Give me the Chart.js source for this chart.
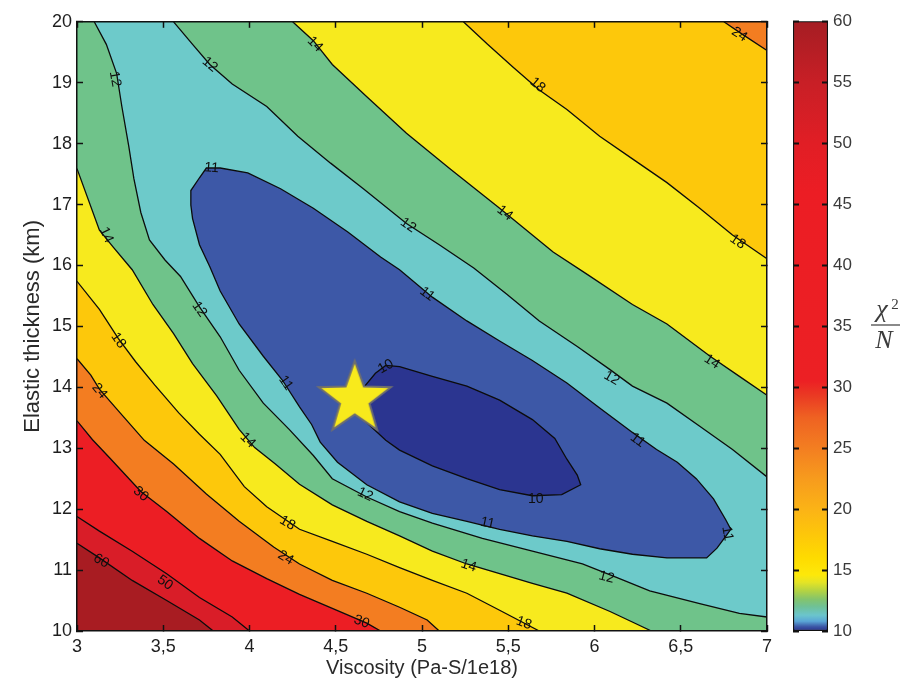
<!DOCTYPE html>
<html>
<head>
<meta charset="utf-8">
<script src="https://cdn.jsdelivr.net/npm/chart.js@4.4.1/dist/chart.umd.min.js"></script>
<style>
  body { margin: 0; background: #fff; }
  #wrap { position: relative; width: 915px; height: 680px; }
  #contourCanvas { position: absolute; left: 0; top: 0; }
  #barCanvas { position: absolute; left: 785px; top: 0; }
</style>
</head>
<body>
<div id="wrap">
  <canvas id="contourCanvas" width="785" height="680"></canvas>
  <canvas id="barCanvas" width="130" height="680"></canvas>
</div>
<script>
const FONT = "'Liberation Sans', Arial, Helvetica, sans-serif";

// contour lines of chi2/N, [viscosity, elastic thickness]
const c10 = [[4.61,13.66],[4.66,13.99],[4.73,14.23],[4.79,14.36],[4.87,14.34],[5.06,14.18],[5.26,14.02],[5.45,13.79],[5.64,13.47],[5.77,13.16],[5.84,12.82],[5.90,12.56],[5.92,12.40],[5.81,12.24],[5.64,12.22],[5.45,12.32],[5.26,12.50],[5.06,12.71],[4.87,12.97],[4.79,13.13],[4.71,13.34],[4.65,13.50]];
const c11 = [[3.66,16.99],[3.66,17.23],[3.71,17.44],[3.75,17.60],[3.83,17.60],[3.99,17.52],[4.18,17.26],[4.37,16.94],[4.57,16.55],[4.76,16.14],[4.87,15.93],[5.06,15.48],[5.26,15.09],[5.45,14.76],[5.64,14.44],[5.84,14.07],[6.03,13.66],[6.22,13.26],[6.36,12.98],[6.48,12.77],[6.59,12.50],[6.69,12.17],[6.76,11.83],[6.79,11.67],[6.77,11.59],[6.71,11.36],[6.65,11.20],[6.42,11.20],[6.22,11.26],[6.03,11.35],[5.84,11.47],[5.64,11.56],[5.45,11.67],[5.26,11.80],[5.06,11.93],[4.87,12.12],[4.68,12.40],[4.51,12.77],[4.41,13.10],[4.36,13.39],[4.29,13.68],[4.19,14.12],[4.08,14.51],[3.94,15.04],[3.83,15.58],[3.77,15.98],[3.71,16.34],[3.67,16.77]];
const c12a = [[3.10,20],[3.17,19.63],[3.23,19.15],[3.26,18.61],[3.30,17.96],[3.33,17.42],[3.37,16.87],[3.42,16.42],[3.51,16.09],[3.60,15.82],[3.71,15.32],[3.83,14.83],[3.94,14.28],[4.08,13.74],[4.23,13.31],[4.37,12.88],[4.48,12.50],[4.68,12.20],[4.87,11.96],[5.06,11.77],[5.35,11.52],[5.64,11.31],[5.93,11.10],[6.12,10.89],[6.32,10.66],[6.61,10.45],[6.84,10.29],[7.0,10.23]];
const c12b = [[3.56,20],[3.67,19.63],[3.77,19.30],[3.90,18.98],[4.10,18.61],[4.28,18.12],[4.47,17.68],[4.66,17.26],[4.91,16.69],[5.10,16.34],[5.30,15.96],[5.49,15.53],[5.68,15.09],[5.90,14.67],[6.09,14.29],[6.22,14.02],[6.42,13.74],[6.61,13.36],[6.80,12.98],[7.0,12.53]];
const c14u = [[4.25,20],[4.37,19.69],[4.48,19.30],[4.68,18.77],[4.91,18.17],[5.16,17.59],[5.45,16.94],[5.76,16.22],[5.96,15.85],[6.22,15.36],[6.42,15.04],[6.67,14.51],[6.84,14.18],[7.0,13.87]];
const c18u = [[5.24,20],[5.38,19.63],[5.53,19.25],[5.68,18.88],[5.84,18.56],[6.03,18.12],[6.22,17.75],[6.42,17.36],[6.61,16.94],[6.80,16.50],[7.0,16.11]];
const c24u = [[6.75,20],[6.86,19.79],[7.0,19.53]];
const c14l = [[3.0,17.59],[3.13,16.58],[3.21,16.30],[3.32,15.93],[3.44,15.36],[3.56,14.88],[3.67,14.39],[3.81,13.86],[3.94,13.31],[4.03,13.01],[4.15,12.74],[4.29,12.41],[4.48,12.07],[4.68,11.80],[4.87,11.56],[5.06,11.31],[5.26,11.10],[5.45,10.94],[5.64,10.78],[5.84,10.62],[6.09,10.32],[6.21,10.16],[6.33,10.0]];
const c18l = [[3.0,15.74],[3.13,15.28],[3.24,14.80],[3.34,14.42],[3.45,14.04],[3.59,13.58],[3.71,13.23],[3.83,12.90],[3.97,12.37],[4.10,12.04],[4.29,11.67],[4.48,11.47],[4.68,11.26],[4.87,11.04],[5.06,10.83],[5.26,10.62],[5.45,10.34],[5.68,10.0]];
const c24l = [[3.0,14.47],[3.08,14.20],[3.13,13.97],[3.25,13.58],[3.39,13.13],[3.56,12.74],[3.75,12.25],[3.94,11.80],[4.14,11.38],[4.29,11.10],[4.48,10.83],[4.68,10.62],[4.87,10.39],[5.03,10.18],[5.10,10.0]];
const c30 = [[3.0,13.45],[3.09,13.14],[3.19,12.84],[3.37,12.29],[3.52,11.96],[3.71,11.52],[3.90,11.15],[4.10,10.86],[4.29,10.60],[4.48,10.37],[4.68,10.13],[4.76,10.0]];
const c50 = [[3.0,11.88],[3.13,11.64],[3.32,11.31],[3.52,10.94],[3.71,10.55],[3.90,10.23],[4.0,10.0]];
const c60 = [[3.0,11.44],[3.13,11.20],[3.32,10.83],[3.52,10.50],[3.71,10.18],[3.79,10.0]];

// inline contour labels
const labelText  = ['24','18','18','14','14','14','12','12','12','12','11','11','11','11','10','10','11','12','12','12','11','14','14','14','18','24','30','18','24','50','60','30','18'];
const labelX     = [6.84,5.67,6.83,4.38,5.48,6.68,3.77,4.92,6.10,3.22,3.78,5.03,6.25,6.77,4.79,5.66,5.38,4.67,6.07,3.71,4.21,3.99,5.27,3.17,3.24,3.13,3.37,4.22,4.21,3.51,3.14,4.65,5.59];
const labelY     = [19.79,18.96,16.39,19.63,16.86,14.42,19.30,16.66,14.15,19.06,17.60,15.53,13.13,11.60,14.34,12.17,11.77,12.24,10.88,15.28,14.07,13.13,11.07,16.50,14.77,13.94,12.25,11.77,11.20,10.79,11.15,10.15,10.13];
const labelAngle = [33,40,35,45,38,33,40,35,30,80,5,38,37,80,-30,0,12,25,15,55,55,45,18,65,55,50,40,30,30,35,30,20,20];

// best fit
const starX = [4.61];
const starY = [13.81];

// colour scale
const cbValues = [10, 10.35, 10.8, 11.3, 12.0, 12.6, 13.3, 14.0, 14.6, 16, 18, 20, 22.5, 25, 27.5, 29.3, 30.5, 46, 50, 55, 60];
const cbColors = ['#29308a','#3b55a5','#5aa6d6','#6bc5cc','#6fc196','#84c46c','#b4d342','#e5e425','#fde80a','#fedb00','#fdc60a','#fbb316','#f79b1d','#f37e21','#ef6222','#ea3a23','#ec2024','#ec1d24','#e11e25','#c81f26','#a51d23'];

const COL = {
  navy: '#2b3590', blue: '#3d58a7', cyan: '#6dcaca', green: '#6fc38a',
  yellow: '#f7ea1e', gold: '#fdc80b', orange: '#f37d21', red: '#ec1e24',
  red2: '#d91d28', darkRed: '#a81c22'
};

const toPts = arr => arr.map(p => ({x: p[0], y: p[1]}));
const rightmost = arr => arr.reduce((a, b) => (b[0] > a[0] ? b : a));

// filled bands, painted bottom to top
const frame = [[3,20],[3,10],[7,10],[7,20]];
const layers = [
  [frame, COL.green],
  [c14u.concat([[7,20]]), COL.yellow],
  [c18u.concat([[7,20]]), COL.gold],
  [c24u.concat([[7,20]]), COL.orange],
  [[[3,10]].concat(c14l), COL.yellow],
  [[[3,10]].concat(c18l), COL.gold],
  [[[3,10]].concat(c24l), COL.orange],
  [[[3,10]].concat(c30), COL.red],
  [[[3,10]].concat(c50), COL.red2],
  [[[3,10]].concat(c60), COL.darkRed],
  [c12a.concat(c12b.slice().reverse(), [[7,20]]), COL.cyan],
  [c11.concat([c11[0], rightmost(c11)]), COL.blue],
  [c10.concat([c10[0], rightmost(c10)]), COL.navy]
];

const datasets = layers.map((l, i) => ({
  data: toPts(l[0]),
  showLine: true,
  fill: 'shape',
  backgroundColor: l[1],
  borderWidth: 0,
  pointRadius: 0,
  order: 100 - i
}));

[c10.concat([c10[0]]), c11.concat([c11[0]]), c12a, c12b, c14u, c18u, c24u, c14l, c18l, c24l, c30, c50, c60].forEach(line => {
  datasets.push({
    data: toPts(line),
    showLine: true,
    fill: false,
    borderColor: '#0c0c0c',
    borderWidth: 1.3,
    pointRadius: 0,
    order: 1
  });
});

function makeStar(R, r) {
  const c = document.createElement('canvas');
  const s = Math.ceil(R * 2 + 6);
  c.width = s; c.height = s;
  const g = c.getContext('2d');
  g.translate(s / 2, s / 2);
  g.beginPath();
  for (let i = 0; i < 10; i++) {
    const rad = i % 2 ? r : R;
    const a = -Math.PI / 2 + i * Math.PI / 5;
    g.lineTo(rad * Math.cos(a), rad * Math.sin(a));
  }
  g.closePath();
  g.fillStyle = '#f8ea1c';
  g.fill();
  g.lineWidth = 2;
  g.strokeStyle = '#6f6f6f';
  g.stroke();
  return c;
}

datasets.push({
  data: starX.map((x, i) => ({x, y: starY[i]})),
  pointStyle: makeStar(38, 15.5),
  pointRadius: 10,
  order: 0
});

const contourLabels = {
  id: 'contourLabels',
  afterDatasetsDraw(chart) {
    const {ctx, scales: {x, y}} = chart;
    ctx.save();
    ctx.font = '14px ' + FONT;
    ctx.fillStyle = '#0f0f0f';
    ctx.textAlign = 'center';
    ctx.textBaseline = 'middle';
    labelText.forEach((t, i) => {
      ctx.save();
      ctx.translate(x.getPixelForValue(labelX[i]), y.getPixelForValue(labelY[i]));
      ctx.rotate(labelAngle[i] * Math.PI / 180);
      ctx.fillText(t, 0, 0);
      ctx.restore();
    });
    ctx.restore();
  }
};

// grid z > 0 keeps the inward tick marks above the filled bands
const tickGrid = { drawOnChartArea: false, tickLength: -6, tickColor: '#111', tickWidth: 1.5, z: 1 };
const axisBorder = { color: '#111', width: 1.5, z: 1 };

new Chart(document.getElementById('contourCanvas'), {
  type: 'scatter',
  data: { datasets },
  options: {
    responsive: false,
    animation: false,
    events: [],
    layout: { padding: { left: 0, right: 18, top: 14, bottom: 0 } },
    plugins: { legend: { display: false }, tooltip: { enabled: false } },
    scales: {
      x: {
        type: 'linear', position: 'bottom', min: 3, max: 7,
        ticks: {
          stepSize: 0.5, padding: 11, maxRotation: 0, autoSkip: false,
          color: '#1e1e1e', font: { family: FONT, size: 18 },
          callback: v => String(v).replace('.', ',')
        },
        grid: tickGrid,
        border: axisBorder,
        title: { display: true, text: 'Viscosity (Pa-S/1e18)', color: '#2a2a2a', font: { family: FONT, size: 20 }, padding: { top: 0, bottom: 0 } },
        afterFit: s => { s.height = 49; }
      },
      xTop: {
        type: 'linear', position: 'top', min: 3, max: 7,
        ticks: { stepSize: 0.5, display: false },
        grid: tickGrid,
        border: axisBorder,
        afterFit: s => { s.height = 0; }
      },
      y: {
        type: 'linear', position: 'left', min: 10, max: 20,
        ticks: { stepSize: 1, padding: 11, color: '#1e1e1e', font: { family: FONT, size: 18 } },
        grid: tickGrid,
        border: axisBorder,
        title: { display: true, text: 'Elastic thickness (km)', color: '#2a2a2a', font: { family: FONT, size: 22 }, padding: { top: 20, bottom: 0 } },
        afterFit: s => { s.width = 77; }
      },
      yRight: {
        type: 'linear', position: 'right', min: 10, max: 20,
        ticks: { stepSize: 1, display: false },
        grid: tickGrid,
        border: axisBorder,
        afterFit: s => { s.width = 0; }
      }
    }
  },
  plugins: [contourLabels]
});

// colour bar
const chiLabel = {
  id: 'chiLabel',
  afterDraw(chart) {
    const ctx = chart.ctx;
    ctx.save();
    ctx.fillStyle = '#3c3c3c';
    ctx.strokeStyle = '#3c3c3c';
    ctx.textAlign = 'center';
    ctx.textBaseline = 'alphabetic';
    ctx.font = "italic 26px 'Liberation Serif', 'DejaVu Serif', serif";
    ctx.fillText('\u03c7', 97, 317);
    ctx.fillText('N', 99, 348);
    ctx.font = "15px 'Liberation Serif', 'DejaVu Serif', serif";
    ctx.fillText('2', 110, 309);
    ctx.lineWidth = 1.2;
    ctx.beginPath();
    ctx.moveTo(86, 325);
    ctx.lineTo(115, 325);
    ctx.stroke();
    ctx.restore();
  }
};

const barTicks = { drawOnChartArea: false, tickLength: -6, tickColor: '#111', tickWidth: 2, z: 1 };

new Chart(document.getElementById('barCanvas'), {
  type: 'bar',
  data: {
    labels: ['chi2'],
    datasets: [{
      data: [[cbValues[0], cbValues[cbValues.length - 1]]],
      backgroundColor: (c) => {
        const chart = c.chart;
        if (!chart.chartArea) return cbColors[0];
        const ys = chart.scales.y;
        const lo = cbValues[0], hi = cbValues[cbValues.length - 1];
        const g = chart.ctx.createLinearGradient(0, ys.getPixelForValue(lo), 0, ys.getPixelForValue(hi));
        cbValues.forEach((v, i) => g.addColorStop((v - lo) / (hi - lo), cbColors[i]));
        return g;
      },
      borderColor: '#111',
      borderWidth: 1.5,
      borderSkipped: false,
      barPercentage: 1,
      categoryPercentage: 1
    }]
  },
  options: {
    responsive: false,
    animation: false,
    events: [],
    layout: { padding: { left: 8, right: 0, top: 14, bottom: 49 } },
    plugins: { legend: { display: false }, tooltip: { enabled: false } },
    scales: {
      x: { display: false },
      y: {
        position: 'right', min: 10, max: 60,
        ticks: { stepSize: 5, padding: 11, color: '#3a3a3a', font: { family: FONT, size: 17 } },
        grid: barTicks,
        border: { display: false },
        afterFit: s => { s.width = 87; }
      },
      yLeft: {
        position: 'left', min: 10, max: 60,
        ticks: { stepSize: 5, display: false },
        grid: barTicks,
        border: { display: false },
        afterFit: s => { s.width = 0; }
      }
    }
  },
  plugins: [chiLabel]
});
</script>
</body>
</html>
